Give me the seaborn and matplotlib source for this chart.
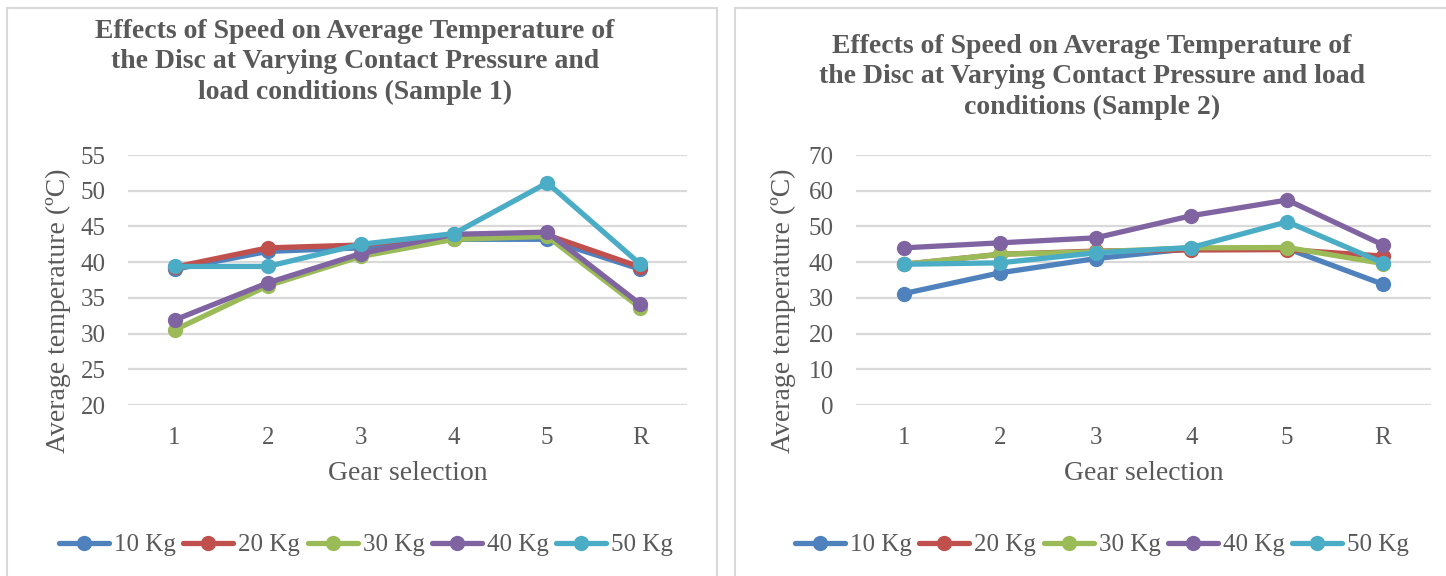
import numpy as np
import pandas as pd
import matplotlib
matplotlib.use("Agg")
import matplotlib.pyplot as plt
from matplotlib.lines import Line2D
from matplotlib.patches import Rectangle
import seaborn as sns

gears = ["1", "2", "3", "4", "5", "R"]
loads = ["10 Kg", "20 Kg", "30 Kg", "40 Kg", "50 Kg"]

# Sample 1
s1_10 = [39.0, 41.5, 42.0, 43.2, 43.2, 39.0]
s1_20 = [39.3, 42.0, 42.4, 43.8, 43.8, 39.3]
s1_30 = [30.5, 36.7, 40.8, 43.2, 43.6, 33.6]
s1_40 = [31.9, 37.1, 41.2, 43.9, 44.2, 34.1]
s1_50 = [39.4, 39.4, 42.5, 44.0, 51.1, 39.7]

# Sample 2
s2_10 = [31.2, 37.0, 41.0, 43.8, 43.8, 33.8]
s2_20 = [39.4, 42.2, 43.1, 43.4, 43.5, 41.7]
s2_30 = [39.4, 42.2, 42.9, 44.0, 44.1, 39.6]
s2_40 = [44.0, 45.4, 46.8, 53.0, 57.4, 44.8]
s2_50 = [39.4, 39.8, 42.6, 44.1, 51.3, 39.8]

titles = [
    "Effects of Speed on Average Temperature of\nthe Disc at Varying Contact Pressure and\nload conditions (Sample 1)",
    "Effects of Speed on Average Temperature of\nthe Disc at Varying Contact Pressure and load\nconditions (Sample 2)",
]
ylabel = "Average temperature (ºC)"
xlabel = "Gear selection"

colors = ["#4F81BD", "#C0504D", "#9BBB59", "#8064A2", "#4BACC6"]
TXT = "#595959"
GRID = "#D9D9D9"


def to_long(series):
    rows = []
    for load, vals in zip(loads, series):
        for g, v in zip(gears, vals):
            rows.append({"gear": g, "temp": v, "load": load})
    return pd.DataFrame(rows)


df1 = to_long([s1_10, s1_20, s1_30, s1_40, s1_50])
df2 = to_long([s2_10, s2_20, s2_30, s2_40, s2_50])

sns.set_theme(style="white")
plt.rcParams["font.family"] = ["Liberation Serif", "DejaVu Serif"]

W, H = 1446, 576
fig = plt.figure(figsize=(W / 100, H / 100), dpi=100)
fig.patch.set_facecolor("white")

# Panel borders
fig.patches.append(Rectangle((7 / W, -0.1), (717 - 7) / W, 1.1 - 8 / H,
                             transform=fig.transFigure, fill=False, edgecolor=GRID, lw=1.5))
fig.patches.append(Rectangle((735 / W, -0.1), 0.5, 1.1 - 8 / H,
                             transform=fig.transFigure, fill=False, edgecolor=GRID, lw=1.5))

ax_specs = [
    dict(x0=128, x1=687, df=df1, ylim=(20, 55), yticks=np.arange(20, 56, 5),
         ylab_x=58, title_x=355, title_y=62, leg_x=366),
    dict(x0=856, x1=1431, df=df2, ylim=(0, 70), yticks=np.arange(0, 71, 10),
         ylab_x=783, title_x=1092, title_y=77, leg_x=1102),
]

top, bot = 155, 405
for i, spec in enumerate(ax_specs):
    ax = fig.add_axes([spec["x0"] / W, 1 - bot / H, (spec["x1"] - spec["x0"]) / W, (bot - top) / H])
    sns.lineplot(data=spec["df"], x="gear", y="temp", hue="load", hue_order=loads,
                 palette=colors, marker="o", markersize=11, markeredgewidth=0,
                 linewidth=3.8, sort=False, legend=False, ax=ax)
    ax.set_xlim(-0.5, 5.5)
    ax.set_ylim(*spec["ylim"])
    ax.set_yticks(spec["yticks"])
    ax.yaxis.grid(True, color=GRID, lw=1.6)
    ax.set_axisbelow(True)
    for s in ax.spines.values():
        s.set_visible(False)
    ax.tick_params(axis="both", length=0, labelsize=18, labelcolor=TXT)
    ax.tick_params(axis="y", pad=16)
    ax.tick_params(axis="x", pad=16)
    ax.set_xlabel("")
    ax.set_ylabel("")
    fig.text(spec["ylab_x"] / W, 1 - 311 / H, ylabel, rotation=90, ha="center", va="center",
             fontsize=20, color=TXT)
    fig.text((spec["x0"] + spec["x1"]) / 2 / W, 1 - 473 / H, xlabel, ha="center", va="center",
             fontsize=20, color=TXT)
    fig.text(spec["title_x"] / W, 1 - spec["title_y"] / H, titles[i], ha="center", va="center",
             fontsize=20, fontweight="bold", color=TXT, linespacing=1.26)
    handles = [Line2D([0], [0], color=c, lw=3.8, marker="o", markersize=11, markeredgewidth=0)
               for c in colors]
    fig.legend(handles, loads, loc="center", bbox_to_anchor=(spec["leg_x"] / W, 1 - 545 / H),
               ncol=5, frameon=False, fontsize=18, labelcolor=TXT, handlelength=2.0,
               handletextpad=0.2, columnspacing=0.3, borderpad=0)

fig.savefig("out.png", dpi=100, facecolor="white")
